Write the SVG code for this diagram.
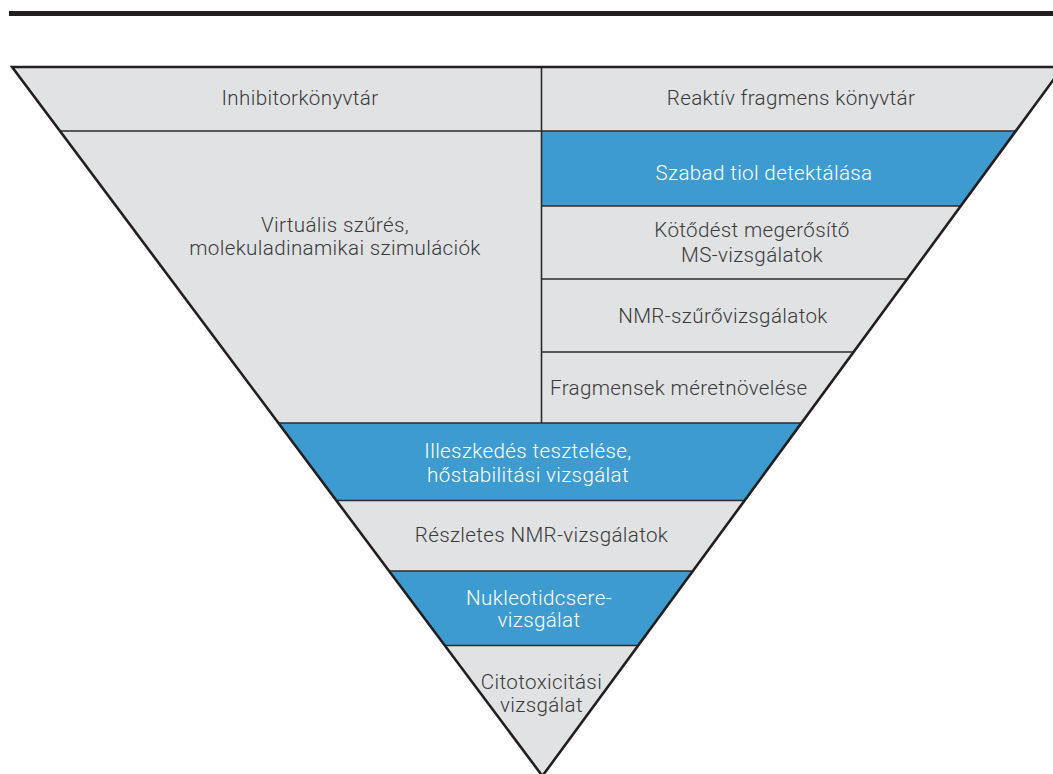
<svg xmlns="http://www.w3.org/2000/svg" width="1053" height="774" viewBox="0 0 1053 774">
  <style>
    .grey { fill: #e1e2e4; }
    .blue { fill: #3d9bd0; }
    .div { stroke: #2b2b2b; stroke-width: 1.6; fill: none; }
    .edge { stroke: #231f20; stroke-width: 2.6; fill: none; stroke-linejoin: miter; }
    text { font-family: Roboto, "Liberation Sans", sans-serif; font-weight: 300; font-size: 20.6px; letter-spacing: 0.35px; fill: #3a3a3a; }
    .c { text-anchor: middle; }
    .w { fill: #ffffff; }
  </style>
  <rect width="1053" height="774" fill="#ffffff"/>

  <!-- heading rule -->
  <rect x="9" y="11" width="1044" height="5" fill="#231f20"/>

  <!-- top row: library choice -->
  <g id="inhibitor-library">
    <polygon class="grey" points="12.1,67 541.5,67 541.5,131 59.9,131"/>
    <text class="c" x="300" y="105">Inhibitorkönyvtár</text>
  </g>
  <g id="reactive-fragment-library">
    <polygon class="grey" points="541.5,67 1062.8,67 1015.8,131 541.5,131"/>
    <text class="c" x="791" y="105">Reaktív fragmens könyvtár</text>
  </g>

  <!-- left column -->
  <g id="virtual-screening">
    <polygon class="grey" points="59.9,131 541.5,131 541.5,423 278.4,423"/>
    <text class="c" x="335" y="232">Virtuális szűrés,</text>
    <text class="c" x="335" y="255">molekuladinamikai szimulációk</text>
  </g>

  <!-- right column -->
  <g id="free-thiol">
    <polygon class="blue" points="541.5,131 1015.8,131 960.8,206 541.5,206"/>
    <text class="c w" x="764" y="180">Szabad tiol detektálása</text>
  </g>
  <g id="ms-binding">
    <polygon class="grey" points="541.5,206 960.8,206 907.2,279 541.5,279"/>
    <text class="c" x="752" y="237">Kötődést megerősítő</text>
    <text class="c" x="752" y="261.5">MS-vizsgálatok</text>
  </g>
  <g id="nmr-screening">
    <polygon class="grey" points="541.5,279 907.2,279 853.6,352 541.5,352"/>
    <text class="c" x="723" y="323">NMR-szűrővizsgálatok</text>
  </g>
  <g id="fragment-growing">
    <polygon class="grey" points="541.5,352 853.6,352 801.5,423 541.5,423"/>
    <text x="550" y="395">Fragmensek méretnövelése</text>
  </g>

  <!-- lower funnel -->
  <g id="fit-thermal">
    <polygon class="blue" points="278.4,423 801.5,423 744.6,500.5 336.3,500.5"/>
    <text class="c w" x="528" y="458">Illeszkedés tesztelése,</text>
    <text class="c w" x="528" y="482">hőstabilitási vizsgálat</text>
  </g>
  <g id="detailed-nmr">
    <polygon class="grey" points="336.3,500.5 744.6,500.5 692.9,571 389.1,571"/>
    <text class="c" x="541.5" y="541.5">Részletes NMR-vizsgálatok</text>
  </g>
  <g id="nucleotide-exchange">
    <polygon class="blue" points="389.1,571 692.9,571 638.2,645.5 444.8,645.5"/>
    <text class="c w" x="539" y="605">Nukleotidcsere-</text>
    <text class="c w" x="539" y="627">vizsgálat</text>
  </g>
  <g id="cytotoxicity">
    <polygon class="grey" points="444.8,645.5 638.2,645.5 542.4,776"/>
    <text class="c" x="541.5" y="689">Citotoxicitási</text>
    <text class="c" x="541.5" y="711.5">vizsgálat</text>
  </g>

  <!-- dividing lines and funnel outline -->
  <g id="connectors">
    <line class="div" x1="59.9" y1="131" x2="1015.8" y2="131"/>
    <line class="div" x1="541.5" y1="67" x2="541.5" y2="423"/>
    <line class="div" x1="541.5" y1="206" x2="960.8" y2="206"/>
    <line class="div" x1="541.5" y1="279" x2="907.2" y2="279"/>
    <line class="div" x1="541.5" y1="352" x2="853.6" y2="352"/>
    <line class="div" x1="278.4" y1="423" x2="801.5" y2="423"/>
    <line class="div" x1="336.3" y1="500.5" x2="744.6" y2="500.5"/>
    <line class="div" x1="389.1" y1="571" x2="692.9" y2="571"/>
    <line class="div" x1="444.8" y1="645.5" x2="638.2" y2="645.5"/>
    <polygon class="edge" points="12.1,67 1062.8,67 542.4,776"/>
  </g>
</svg>
